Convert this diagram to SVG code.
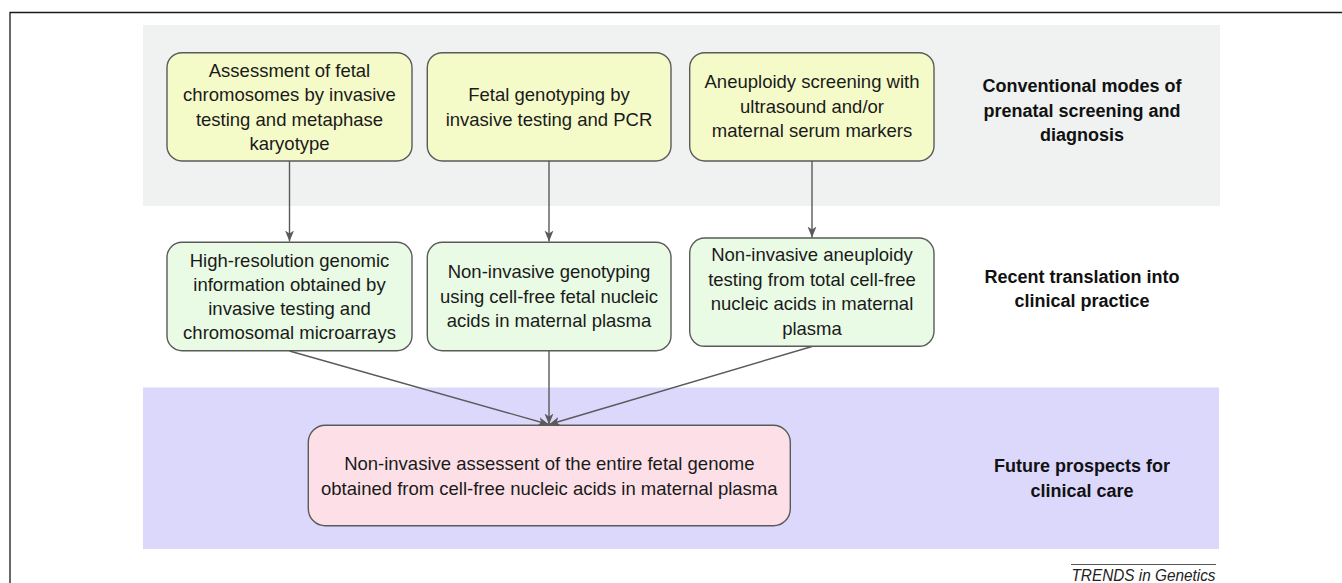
<svg xmlns="http://www.w3.org/2000/svg" width="1342" height="583" viewBox="0 0 1342 583">
<style>
.band-top{fill:#eff2f1;}
.band-bot{fill:#dcd8fc;}
.box{stroke:#5a5a5a;stroke-width:1.4;}
.yel{fill:#f5fac9;}
.grn{fill:#e9fbe4;}
.pnk{fill:#fde0e7;}
.t{font-family:"Liberation Sans",Arial,sans-serif;font-size:18.5px;fill:#1a1a1a;text-anchor:middle;}
.lbl{font-family:"Liberation Sans",Arial,sans-serif;font-size:18px;font-weight:bold;fill:#111;text-anchor:middle;}
.conn{stroke:#5a5a5a;stroke-width:1.4;fill:none;marker-end:url(#ah);}
</style>
<defs>
<marker id="ah" markerUnits="userSpaceOnUse" markerWidth="12" markerHeight="10" refX="11" refY="4.5" orient="auto">
<path d="M0,0 L11,4.5 L0,9 L3,4.5 Z" fill="#5a5a5a"/>
</marker>
</defs>
<rect width="1342" height="583" fill="#ffffff"/>
<path d="M10,583 V12.5 H1342" fill="none" stroke="#1a1a1a" stroke-width="1.3"/>
<rect class="band-top" x="143" y="25" width="1077" height="181"/>
<rect class="band-bot" x="143" y="387.5" width="1076" height="161.5"/>

<g id="lbl-conventional">
<text class="lbl" x="1082" y="92">Conventional modes of</text>
<text class="lbl" x="1082" y="116.7">prenatal screening and</text>
<text class="lbl" x="1082" y="141.4">diagnosis</text>
</g>
<g id="lbl-recent">
<text class="lbl" x="1082" y="282.7">Recent translation into</text>
<text class="lbl" x="1082" y="307.4">clinical practice</text>
</g>
<g id="lbl-future">
<text class="lbl" x="1082" y="472">Future prospects for</text>
<text class="lbl" x="1082" y="497">clinical care</text>
</g>

<g id="connectors">
<line class="conn" x1="289.5" y1="161" x2="289.5" y2="241.5"/>
<line class="conn" x1="549" y1="161" x2="549" y2="241.5"/>
<line class="conn" x1="812" y1="161" x2="812" y2="237.5"/>
<line class="conn" x1="289.5" y1="351" x2="549" y2="424.5"/>
<line class="conn" x1="549" y1="351" x2="549" y2="424.5"/>
<line class="conn" x1="812" y1="346.5" x2="549" y2="424.5"/>
</g>

<g id="n-assessment">
<rect class="box yel" x="167" y="52.7" width="245" height="108.3" rx="15"/>
<text class="t" x="289.5" y="76.5">Assessment of fetal</text>
<text class="t" x="289.5" y="101">chromosomes by invasive</text>
<text class="t" x="289.5" y="125.5">testing and metaphase</text>
<text class="t" x="289.5" y="150">karyotype</text>
</g>
<g id="n-genotyping">
<rect class="box yel" x="427.3" y="52.7" width="243.7" height="108.3" rx="15"/>
<text class="t" x="549" y="101">Fetal genotyping by</text>
<text class="t" x="549" y="125.5">invasive testing and PCR</text>
</g>
<g id="n-aneuploidy">
<rect class="box yel" x="689.7" y="52.7" width="244.3" height="108.3" rx="15"/>
<text class="t" x="812" y="88">Aneuploidy screening with</text>
<text class="t" x="812" y="112.7">ultrasound and/or</text>
<text class="t" x="812" y="137.4">maternal serum markers</text>
</g>

<g id="n-highres">
<rect class="box grn" x="167" y="242.3" width="245" height="108.4" rx="15"/>
<text class="t" x="289.5" y="266.5">High-resolution genomic</text>
<text class="t" x="289.5" y="290.8">information obtained by</text>
<text class="t" x="289.5" y="315">invasive testing and</text>
<text class="t" x="289.5" y="339.3">chromosomal microarrays</text>
</g>
<g id="n-noninv-genotyping">
<rect class="box grn" x="427.3" y="242.3" width="243.7" height="108.4" rx="15"/>
<text class="t" x="549" y="278">Non-invasive genotyping</text>
<text class="t" x="549" y="302.5">using cell-free fetal nucleic</text>
<text class="t" x="549" y="327">acids in maternal plasma</text>
</g>
<g id="n-noninv-aneuploidy">
<rect class="box grn" x="689.7" y="238" width="244.3" height="108.3" rx="15"/>
<text class="t" x="812" y="260.7">Non-invasive aneuploidy</text>
<text class="t" x="812" y="285.5">testing from total cell-free</text>
<text class="t" x="812" y="310.3">nucleic acids in maternal</text>
<text class="t" x="812" y="335">plasma</text>
</g>

<g id="n-entire-genome">
<rect class="box pnk" x="308.3" y="425.3" width="482" height="100.4" rx="17"/>
<text class="t" x="549.3" y="470">Non-invasive assessent of the entire fetal genome</text>
<text class="t" x="549.3" y="494.5">obtained from cell-free nucleic acids in maternal plasma</text>
</g>

<g id="credit">
<line x1="1071" y1="564.5" x2="1216" y2="564.5" stroke="#555" stroke-width="1"/>
<text x="1215.5" y="581" font-family="'Liberation Sans',Arial,sans-serif" font-size="16" font-style="italic" fill="#222" text-anchor="end" textLength="144" lengthAdjust="spacingAndGlyphs">TRENDS in Genetics</text>
</g>
</svg>
